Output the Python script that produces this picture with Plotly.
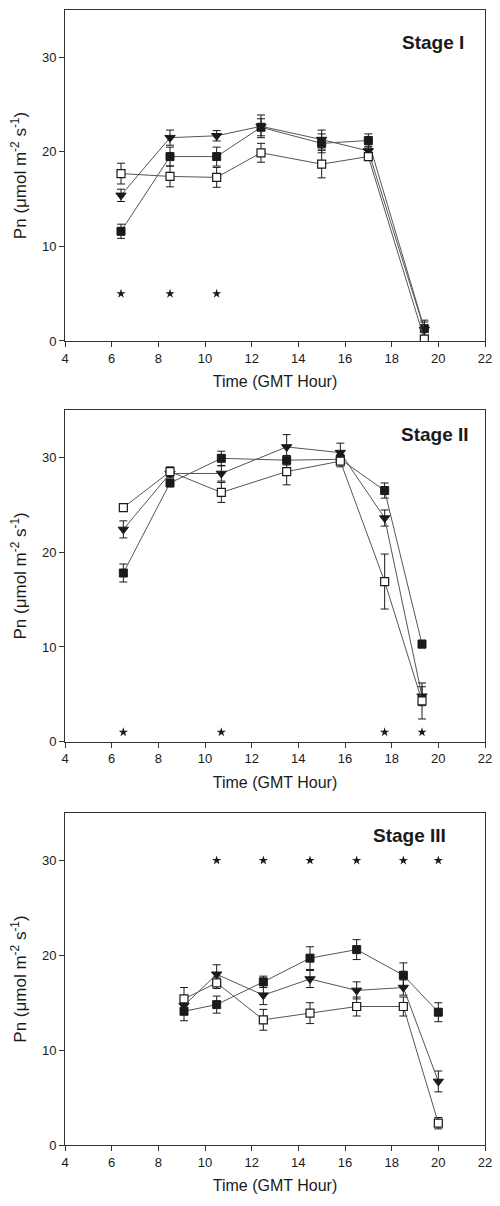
import plotly.graph_objects as go

# ---- Stage I ----
stage1_time = [6.4, 8.5, 10.5, 12.4, 15.0, 17.0, 19.4]
stage1_filled = [11.6, 19.5, 19.5, 22.6, 20.9, 21.2, 1.3]
stage1_filled_err = [0.75, 1.0, 1.0, 0.9, 1.0, 0.7, 0.9]
stage1_tri = [15.4, 21.5, 21.7, 22.7, 21.3, 20.1, 1.2]
stage1_tri_err = [0.65, 0.8, 0.55, 1.2, 1.0, 0.5, 0.8]
stage1_open = [17.7, 17.4, 17.3, 19.9, 18.7, 19.5, 0.2]
stage1_open_err = [1.1, 1.1, 1.05, 1.0, 1.45, 0.4, 0.4]
stage1_star_x = [6.4, 8.5, 10.5]
stage1_star_y = 5

# ---- Stage II ----
stage2_time = [6.5, 8.5, 10.7, 13.5, 15.8, 17.7, 19.3]
stage2_filled = [17.8, 27.3, 29.9, 29.7, 29.8, 26.5, 10.3]
stage2_filled_err = [0.95, 0.4, 0.75, 0.5, 0.5, 0.8, 0.4]
stage2_tri = [22.4, 28.3, 28.3, 31.1, 30.5, 23.6, 4.8]
stage2_tri_err = [0.9, 0.4, 0.8, 1.3, 1.0, 0.85, 1.0]
stage2_open = [24.7, 28.5, 26.3, 28.5, 29.6, 16.9, 4.3]
stage2_open_err = [0.3, 0.5, 1.05, 1.4, 0.6, 2.9, 1.9]
stage2_star_x = [6.5, 10.7, 17.7, 19.3]
stage2_star_y = 1

# ---- Stage III ----
stage3_time = [9.1, 10.5, 12.5, 14.5, 16.5, 18.5, 20.0]
stage3_filled = [14.1, 14.8, 17.2, 19.7, 20.6, 17.9, 14.0]
stage3_filled_err = [1.0, 0.9, 0.6, 1.2, 1.05, 1.3, 1.0]
stage3_tri = [14.7, 18.0, 15.8, 17.5, 16.3, 16.6, 6.7]
stage3_tri_err = [0.9, 1.0, 1.0, 0.9, 0.9, 0.8, 1.1]
stage3_open = [15.4, 17.1, 13.2, 13.9, 14.6, 14.6, 2.3]
stage3_open_err = [1.2, 0.6, 1.1, 1.1, 1.0, 1.0, 0.6]
stage3_star_x = [10.5, 12.5, 14.5, 16.5, 18.5, 20.0]
stage3_star_y = 30

x_ticks = list(range(4, 23, 2))
y_ticks = [0, 10, 20, 30]
stage_labels = ["Stage I", "Stage II", "Stage III"]

FONT = "Liberation Sans, Arial, sans-serif"
LINE = "#555555"
INK = "#1a1a1a"

panels = [
    (stage1_time, stage1_filled, stage1_filled_err, stage1_tri, stage1_tri_err,
     stage1_open, stage1_open_err, stage1_star_x, stage1_star_y),
    (stage2_time, stage2_filled, stage2_filled_err, stage2_tri, stage2_tri_err,
     stage2_open, stage2_open_err, stage2_star_x, stage2_star_y),
    (stage3_time, stage3_filled, stage3_filled_err, stage3_tri, stage3_tri_err,
     stage3_open, stage3_open_err, stage3_star_x, stage3_star_y),
]

# vertical domains of the three stacked panels
domains = [(0.7084, 1.0), (0.3553, 0.6476), (0.0, 0.2925)]
# label anchor positions (data coords, right-aligned)
label_pos = [(21.2, 31.6), (21.4, 32.4), (20.4, 32.6)]

fig = go.Figure()


def err(vals):
    return dict(type="data", array=vals, visible=True, color=INK,
                thickness=1, width=4)


for i, (t, fv, fe, tv, te, ov, oe, sx, sy) in enumerate(panels):
    n = "" if i == 0 else str(i + 1)
    xa, ya = "x" + n, "y" + n
    fig.add_trace(go.Scatter(
        x=t, y=fv, error_y=err(fe), xaxis=xa, yaxis=ya, mode="lines+markers",
        line=dict(color=LINE, width=1),
        marker=dict(symbol="square", size=8, color=INK,
                    line=dict(color=INK, width=1)),
        showlegend=False))
    fig.add_trace(go.Scatter(
        x=t, y=tv, error_y=err(te), xaxis=xa, yaxis=ya, mode="lines+markers",
        line=dict(color=LINE, width=1),
        marker=dict(symbol="triangle-down", size=9, color=INK,
                    line=dict(color=INK, width=1)),
        showlegend=False))
    fig.add_trace(go.Scatter(
        x=t, y=ov, error_y=err(oe), xaxis=xa, yaxis=ya, mode="lines+markers",
        line=dict(color=LINE, width=1),
        marker=dict(symbol="square", size=8, color="white",
                    line=dict(color=INK, width=1.2)),
        showlegend=False))
    fig.add_trace(go.Scatter(
        x=sx, y=[sy] * len(sx), xaxis=xa, yaxis=ya, mode="markers",
        marker=dict(symbol="star", size=7, color=INK),
        showlegend=False))

    axis_common = dict(showline=True, mirror=True, linecolor="#333333",
                       linewidth=1, ticks="outside", ticklen=5,
                       tickcolor="#333333", showgrid=False, zeroline=False,
                       tickfont=dict(family=FONT, size=13, color=INK))
    fig.update_layout({
        "xaxis" + n: dict(axis_common, range=[4, 22], tickvals=x_ticks,
                          anchor=ya, domain=[0, 1],
                          title=dict(text="Time (GMT Hour)", standoff=11,
                                     font=dict(family=FONT, size=16,
                                               color=INK))),
        "yaxis" + n: dict(axis_common, range=[0, 35], tickvals=y_ticks,
                          anchor=xa, domain=list(domains[i]),
                          title=dict(text="Pn (μmol m<sup>-2</sup> s<sup>-1</sup>)",
                                     standoff=10,
                                     font=dict(family=FONT, size=17,
                                               color=INK))),
    })
    lx, ly = label_pos[i]
    fig.add_annotation(x=lx, y=ly, xref=xa, yref=ya, text="<b>%s</b>" % stage_labels[i],
                       showarrow=False, xanchor="right", yanchor="middle",
                       font=dict(family=FONT, size=19, color=INK))

fig.update_layout(width=500, height=1206,
                  margin=dict(l=65, r=8, t=10, b=61),
                  paper_bgcolor="white", plot_bgcolor="white")

fig.write_html("out.html")
